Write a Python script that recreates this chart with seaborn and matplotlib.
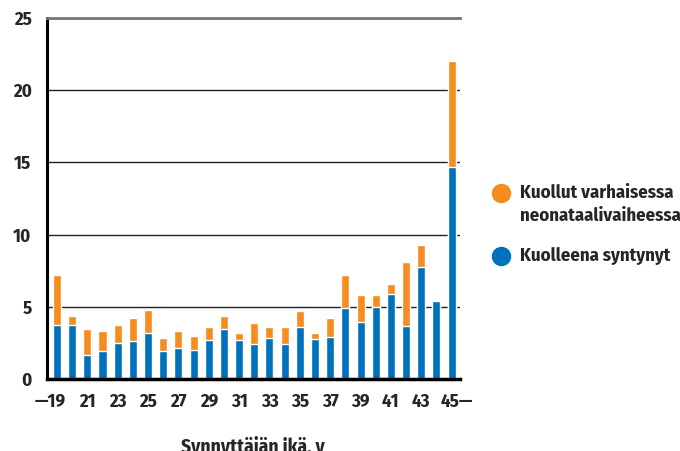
import pandas as pd
import seaborn as sns
import matplotlib.pyplot as plt
from matplotlib.transforms import ScaledTranslation

# ages (first = 19 or younger, last = 45 or older)
ages = [str(a) for a in range(19, 46)]
# stillborn per 1000 (blue)
stillborn = [3.7, 3.7, 1.65, 1.9, 2.45, 2.6, 3.2, 1.9, 2.15, 2.0, 2.7, 3.45, 2.7, 2.4,
             2.85, 2.4, 3.6, 2.75, 2.9, 4.9, 3.95, 5.0, 5.9, 3.65, 7.75, 5.4, 14.7]
# early neonatal deaths per 1000 (orange)
early_neonatal = [3.5, 0.65, 1.8, 1.4, 1.3, 1.6, 1.6, 0.95, 1.15, 1.0, 0.9, 0.9, 0.5, 1.45,
                  0.75, 1.2, 1.1, 0.45, 1.3, 2.3, 1.85, 0.8, 0.7, 4.45, 1.55, 0.0, 7.3]
tick_labels = ['\u201419', '21', '23', '25', '27', '29', '31', '33', '35', '37', '39', '41', '43', '45\u2014']

ORANGE = '#f68b1f'
BLUE = '#0071bb'
FS = 13.5

df = pd.DataFrame({'age': ages, 'stillborn': stillborn, 'early': early_neonatal})
df['total'] = df['stillborn'] + df['early']

sns.set_style('white')
plt.rcParams['font.family'] = ['Fira Sans Condensed', 'DejaVu Sans']
plt.rcParams['font.weight'] = 'bold'

fig = plt.figure(figsize=(6.8, 4.51), dpi=100)
ax = fig.add_axes([0.069, 0.16, 0.607, 0.80])

sns.barplot(data=df, x='age', y='total', color=ORANGE, width=0.53,
            saturation=1, errorbar=None, ax=ax)
sns.barplot(data=df, x='age', y='stillborn', color=BLUE, width=0.53,
            saturation=1, errorbar=None, ax=ax)

ax.set_ylim(0, 25)
ax.set_xlim(-0.66, 26.53)
ax.set_yticks([0, 5, 10, 15, 20, 25])
ax.set_xticks(range(0, 27, 2))
ax.set_xticklabels(tick_labels)
ax.tick_params(axis='both', length=0, labelsize=FS)
ax.tick_params(axis='y', pad=11)
ax.tick_params(axis='x', pad=10)
for lab in ax.get_yticklabels() + ax.get_xticklabels():
    lab.set_fontweight('bold')

# shift dashed end labels so the number sits under its bar
xl = ax.get_xticklabels()
xl[0].set_transform(xl[0].get_transform() + ScaledTranslation(-5 / 72, 0, fig.dpi_scale_trans))
xl[-1].set_transform(xl[-1].get_transform() + ScaledTranslation(4 / 72, 0, fig.dpi_scale_trans))

ax.set_axisbelow(True)
ax.grid(axis='y', color='#222222', lw=1)
ax.grid(axis='x', visible=False)
ax.spines['right'].set_visible(False)
ax.spines['top'].set_color('#777777')
ax.spines['top'].set_linewidth(2)
ax.spines['left'].set_color('black')
ax.spines['left'].set_linewidth(2.2)
ax.spines['bottom'].set_color('black')
ax.spines['bottom'].set_linewidth(2.5)

ax.set_ylabel('')
ax.set_xlabel('Synnyttäjän ikä, v', fontsize=FS + 0.5, fontweight='bold', labelpad=18)

# legend with circles
ax.plot([501 / 680], [1 - 193 / 451], 'o', color=ORANGE, ms=13, transform=fig.transFigure, clip_on=False)
ax.plot([501 / 680], [1 - 256 / 451], 'o', color=BLUE, ms=13, transform=fig.transFigure, clip_on=False)
fig.text(520 / 680, 1 - 193 / 451, 'Kuollut varhaisessa', fontsize=FS, fontweight='bold', va='center')
fig.text(520 / 680, 1 - 216 / 451, 'neonataalivaiheessa', fontsize=FS, fontweight='bold', va='center')
fig.text(520 / 680, 1 - 256 / 451, 'Kuolleena syntynyt', fontsize=FS, fontweight='bold', va='center')

plt.savefig('out.png', dpi=100)
